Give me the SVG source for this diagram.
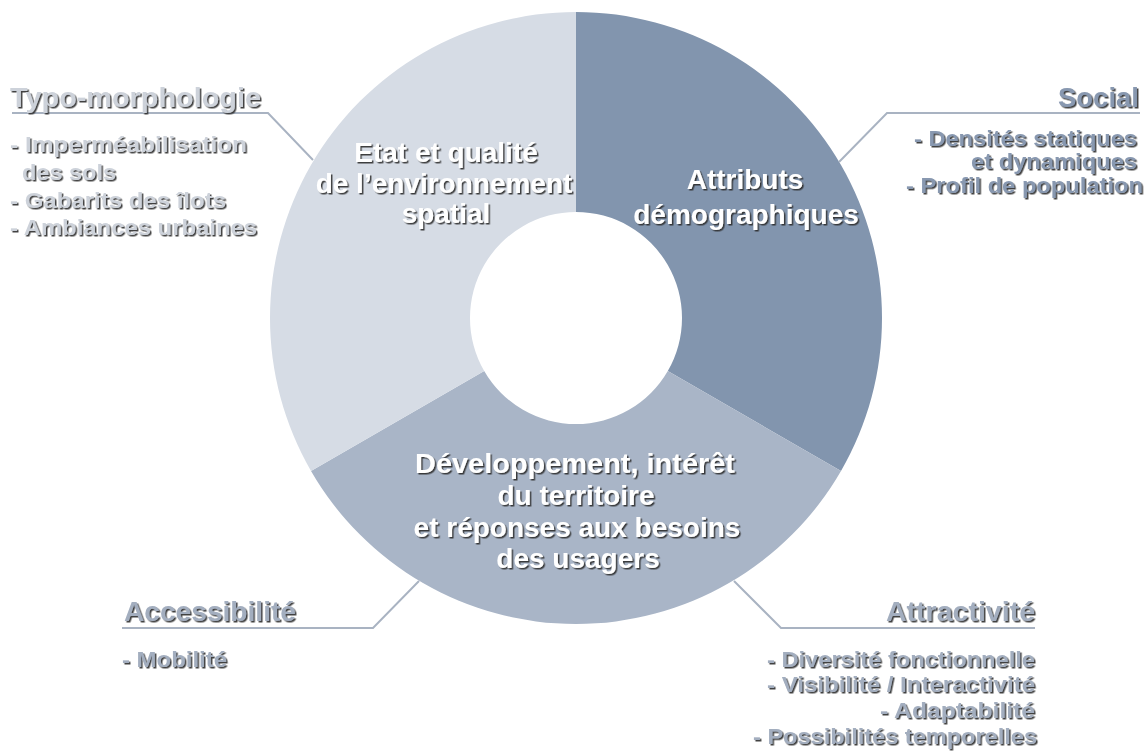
<svg xmlns="http://www.w3.org/2000/svg" width="1146" height="755" viewBox="0 0 1146 755">
<defs>
<filter id="sh" x="-5%" y="-20%" width="110%" height="140%">
<feDropShadow dx="1.5" dy="1.5" stdDeviation="0.6" flood-color="#2e2e2e" flood-opacity="0.9"/>
</filter>
</defs>
<style>
text{font-family:"Liberation Sans",Arial,sans-serif;font-weight:bold;filter:url(#sh)}
.ring{fill:#ffffff;font-size:28px;text-anchor:middle}
.h{font-size:27.5px}
.li{font-size:22.5px}
.typo{fill:#cdd2da}
.soc{fill:#8898b0}
.med{fill:#a3aebf}
.end{text-anchor:end}
.conn{fill:none;stroke:#a9b3c2;stroke-width:2}
</style>
<rect width="1146" height="755" fill="#ffffff"/>
<g id="seg-demographie">
<path d="M576,12 A306,306 0 0 1 841,471 L667.8,371 A106,106 0 0 0 576,212 Z" fill="#8295ae"/>
<text class="ring" x="745" y="189">Attributs</text>
<text class="ring" x="746" y="224">démographiques</text>
</g>
<g id="seg-developpement">
<path d="M841,471 A306,306 0 0 1 311,471 L484.2,371 A106,106 0 0 0 667.8,371 Z" fill="#a9b5c7"/>
<text class="ring" x="575" y="473" textLength="320" lengthAdjust="spacingAndGlyphs">Développement, intérêt</text>
<text class="ring" x="576" y="505">du territoire</text>
<text class="ring" x="577" y="537">et réponses aux besoins</text>
<text class="ring" x="578" y="568">des usagers</text>
</g>
<g id="seg-environnement">
<path d="M311,471 A306,306 0 0 1 576,12 L576,212 A106,106 0 0 0 484.2,371 Z" fill="#d6dce5"/>
<text class="ring" x="446" y="162">Etat et qualité</text>
<text class="ring" x="444" y="193">de l’environnement</text>
<text class="ring" x="446" y="223">spatial</text>
</g>
<g id="connectors">
<path class="conn" d="M12,113 H268 L313,160"/>
<path class="conn" d="M1140,113 H887 L839,162"/>
<path class="conn" d="M122,628 H373 L419,581"/>
<path class="conn" d="M1035,628 H781 L734,581"/>
</g>
<g id="typo-morphologie">
<text class="h typo" x="10" y="107" textLength="251" lengthAdjust="spacingAndGlyphs">Typo-morphologie</text>
<text class="li typo" x="10" y="152" textLength="237" lengthAdjust="spacingAndGlyphs">- Imperméabilisation</text>
<text class="li typo" x="22" y="180" textLength="94" lengthAdjust="spacingAndGlyphs">des sols</text>
<text class="li typo" x="10" y="208" textLength="216" lengthAdjust="spacingAndGlyphs">- Gabarits des îlots</text>
<text class="li typo" x="10" y="235" textLength="247" lengthAdjust="spacingAndGlyphs">- Ambiances urbaines</text>
</g>
<g id="social">
<text class="h soc end" x="1139" y="107">Social</text>
<text class="li soc end" x="1137" y="146" textLength="223" lengthAdjust="spacingAndGlyphs">- Densités statiques</text>
<text class="li soc end" x="1137" y="169" textLength="166" lengthAdjust="spacingAndGlyphs">et dynamiques</text>
<text class="li soc end" x="1143" y="193" textLength="237" lengthAdjust="spacingAndGlyphs">- Profil de population</text>
</g>
<g id="accessibilite">
<text class="h med" x="124" y="621" textLength="172" lengthAdjust="spacingAndGlyphs">Accessibilité</text>
<text class="li med" x="122" y="667" textLength="105" lengthAdjust="spacingAndGlyphs">- Mobilité</text>
</g>
<g id="attractivite">
<text class="h med end" x="1035" y="621" textLength="149" lengthAdjust="spacingAndGlyphs">Attractivité</text>
<text class="li med end" x="1035" y="667" textLength="268" lengthAdjust="spacingAndGlyphs">- Diversité fonctionnelle</text>
<text class="li med end" x="1035" y="692" textLength="268" lengthAdjust="spacingAndGlyphs">- Visibilité / Interactivité</text>
<text class="li med end" x="1035" y="718" textLength="155" lengthAdjust="spacingAndGlyphs">- Adaptabilité</text>
<text class="li med end" x="1037" y="744" textLength="284" lengthAdjust="spacingAndGlyphs">- Possibilités temporelles</text>
</g>
</svg>
